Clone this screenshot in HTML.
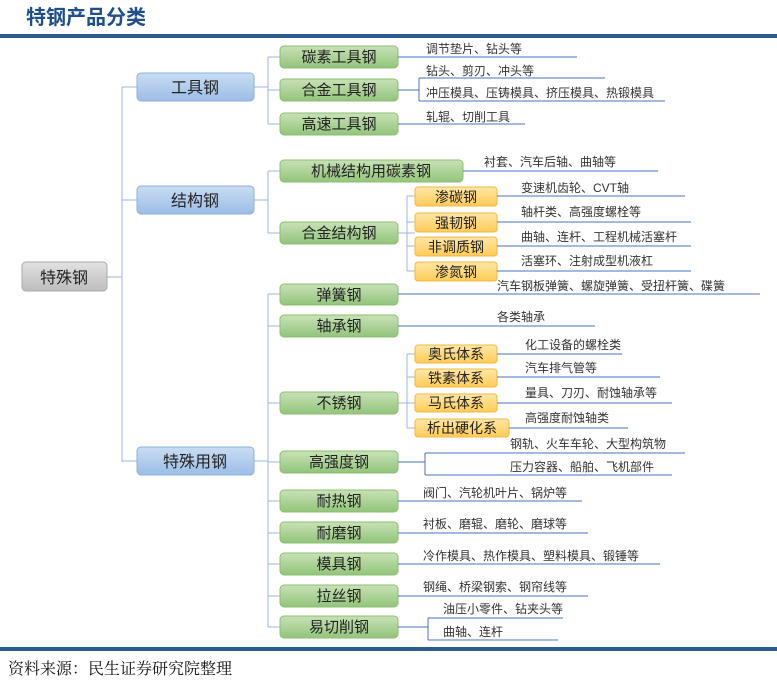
<!DOCTYPE html>
<html><head><meta charset="utf-8"><style>
body{margin:0;background:#fff;}
svg{display:block;font-family:"Liberation Sans","Noto Sans CJK SC",sans-serif;}
.a{font-size:12px;fill:#333;}
.b{font-size:15px;fill:#222;text-anchor:middle;}
.c{font-size:16px;fill:#222;text-anchor:middle;}
.l{stroke:#4a72c0;stroke-width:1;fill:none;}
.t{stroke:#9bb5e0;stroke-width:1;fill:none;}
.g{fill:url(#gg);stroke:#8cbf6f;}
.o{fill:url(#og);stroke:#f0b840;}
</style></head><body>
<svg width="777" height="682" viewBox="0 0 777 682" xmlns="http://www.w3.org/2000/svg">
<defs>
<linearGradient id="gg" x1="0" y1="0" x2="0" y2="1"><stop offset="0" stop-color="#c8e2b6"/><stop offset="1" stop-color="#92c47b"/></linearGradient>
<linearGradient id="og" x1="0" y1="0" x2="0" y2="1"><stop offset="0" stop-color="#ffe7a8"/><stop offset="1" stop-color="#ffcb55"/></linearGradient>
<linearGradient id="bg" x1="0" y1="0" x2="0" y2="1"><stop offset="0" stop-color="#c9ddf3"/><stop offset="1" stop-color="#9cbde6"/></linearGradient>
<linearGradient id="sg" x1="0" y1="0" x2="0" y2="1"><stop offset="0" stop-color="#e2e2e2"/><stop offset="1" stop-color="#bdbdbd"/></linearGradient>
</defs>
<text x="26" y="24" style="font-size:20px;font-weight:bold;fill:#1f4e8c;font-family:'Liberation Sans','Noto Sans CJK SC',sans-serif">特钢产品分类</text>
<rect x="0" y="34" width="777" height="4" fill="#2e5a8e"/>
<rect x="0" y="647" width="777" height="4" fill="#2e5a8e"/>
<text x="8" y="674" style="font-size:16px;fill:#111;font-family:'Liberation Serif','Noto Serif CJK SC',serif">资料来源：民生证券研究院整理</text>

<path class="t" d="M122 87V462M107 277H122M122 87H137M122 200H137M122 461H137"/>
<path class="t" d="M268 57V124M254 87H268M268 57H280M268 90H280M268 124H280"/>
<path class="t" d="M268 171V233M254 200H268M268 171H280M268 233H280"/>
<path class="t" d="M268 294V627M254 461H268M268 294H280M268 326H280M268 403H280M268 462H280M268 501H280M268 533H280M268 564H280M268 596H280M268 627H280"/>
<path class="t" d="M407 196V271M398 233H415M407 196H415M407 222H415M407 246H415M407 271H415"/>
<path class="t" d="M407 354V428M398 403H415M407 354H415M407 377H415M407 428H415"/>

<rect x="22" y="262" width="85" height="29" rx="4" fill="url(#sg)" stroke="#aaa"/>
<text class="c" x="64" y="283">特殊钢</text>
<rect x="137" y="73" width="117" height="28" rx="4" fill="url(#bg)" stroke="#8db0dc"/><text class="c" x="195" y="93">工具钢</text>
<rect x="137" y="186" width="117" height="28" rx="4" fill="url(#bg)" stroke="#8db0dc"/><text class="c" x="195" y="206">结构钢</text>
<rect x="137" y="447" width="117" height="28" rx="4" fill="url(#bg)" stroke="#8db0dc"/><text class="c" x="195" y="467">特殊用钢</text>

<g>
<rect class="g" x="280" y="46" width="118" height="22" rx="4"/><text class="b" x="339" y="62">碳素工具钢</text>
<rect class="g" x="280" y="79" width="118" height="22" rx="4"/><text class="b" x="339" y="95">合金工具钢</text>
<rect class="g" x="280" y="113" width="118" height="22" rx="4"/><text class="b" x="339" y="129">高速工具钢</text>
<rect class="g" x="280" y="160" width="183" height="22" rx="4"/><text class="b" x="371" y="176">机械结构用碳素钢</text>
<rect class="g" x="280" y="222" width="118" height="22" rx="4"/><text class="b" x="339" y="238">合金结构钢</text>
<rect class="g" x="280" y="284" width="118" height="21" rx="4"/><text class="b" x="339" y="300">弹簧钢</text>
<rect class="g" x="280" y="315" width="118" height="22" rx="4"/><text class="b" x="339" y="331">轴承钢</text>
<rect class="g" x="280" y="392" width="118" height="22" rx="4"/><text class="b" x="339" y="408">不锈钢</text>
<rect class="g" x="280" y="451" width="118" height="22" rx="4"/><text class="b" x="339" y="467">高强度钢</text>
<rect class="g" x="280" y="490" width="118" height="22" rx="4"/><text class="b" x="339" y="506">耐热钢</text>
<rect class="g" x="280" y="522" width="118" height="21" rx="4"/><text class="b" x="339" y="538">耐磨钢</text>
<rect class="g" x="280" y="553" width="118" height="22" rx="4"/><text class="b" x="339" y="569">模具钢</text>
<rect class="g" x="280" y="585" width="118" height="22" rx="4"/><text class="b" x="339" y="601">拉丝钢</text>
<rect class="g" x="280" y="616" width="118" height="22" rx="4"/><text class="b" x="339" y="632">易切削钢</text>
</g>
<g>
<rect class="o" x="415" y="187" width="82" height="19" rx="3"/><text class="b" x="456" y="202" style="font-size:14px">渗碳钢</text>
<rect class="o" x="415" y="213" width="82" height="19" rx="3"/><text class="b" x="456" y="228" style="font-size:14px">强韧钢</text>
<rect class="o" x="415" y="237" width="82" height="19" rx="3"/><text class="b" x="456" y="252" style="font-size:14px">非调质钢</text>
<rect class="o" x="415" y="262" width="82" height="19" rx="3"/><text class="b" x="456" y="277" style="font-size:14px">渗氮钢</text>
<rect class="o" x="415" y="345" width="82" height="18" rx="3"/><text class="b" x="456" y="359" style="font-size:14px">奥氏体系</text>
<rect class="o" x="415" y="369" width="82" height="18" rx="3"/><text class="b" x="456" y="383" style="font-size:14px">铁素体系</text>
<rect class="o" x="415" y="394" width="82" height="18" rx="3"/><text class="b" x="456" y="408" style="font-size:14px">马氏体系</text>
<rect class="o" x="415" y="419" width="94" height="18" rx="3"/><text class="b" x="462" y="433" style="font-size:14px">析出硬化系</text>
</g>

<path class="l" d="M398 57H577M398 90H419M419 78V101M419 78H605M419 101H665M398 124H525M463 171H658"/>
<path class="l" d="M497 196H685M497 222H691M497 246H691M497 271H691"/>
<path class="l" d="M398 294H760M398 326H595M497 354H622M497 377H660M497 403H672M509 428H628"/>
<path class="l" d="M398 462H425M425 453V475M425 453H685M425 475H672"/>
<path class="l" d="M398 501H582M398 533H588M398 564H660M398 596H588M398 627H428M428 618V640M428 618H563M428 640H558"/>

<g class="a">
<text x="426" y="53">调节垫片、钻头等</text>
<text x="426" y="75">钻头、剪刃、冲头等</text>
<text x="426" y="97">冲压模具、压铸模具、挤压模具、热锻模具</text>
<text x="426" y="121">轧辊、切削工具</text>
<text x="484" y="166">衬套、汽车后轴、曲轴等</text>
<text x="521" y="192">变速机齿轮、CVT轴</text>
<text x="521" y="216">轴杆类、高强度螺栓等</text>
<text x="521" y="241">曲轴、连杆、工程机械活塞杆</text>
<text x="521" y="265">活塞环、注射成型机液杠</text>
<text x="497" y="290">汽车钢板弹簧、螺旋弹簧、受扭杆簧、碟簧</text>
<text x="497" y="321">各类轴承</text>
<text x="525" y="349">化工设备的螺栓类</text>
<text x="525" y="372">汽车排气管等</text>
<text x="525" y="397">量具、刀刃、耐蚀轴承等</text>
<text x="525" y="422">高强度耐蚀轴类</text>
<text x="510" y="448">钢轨、火车车轮、大型构筑物</text>
<text x="510" y="471">压力容器、船舶、飞机部件</text>
<text x="423" y="497">阀门、汽轮机叶片、锅炉等</text>
<text x="423" y="528">衬板、磨辊、磨轮、磨球等</text>
<text x="423" y="560">冷作模具、热作模具、塑料模具、锻锤等</text>
<text x="423" y="591">钢绳、桥梁钢索、钢帘线等</text>
<text x="443" y="613">油压小零件、钻夹头等</text>
<text x="443" y="636">曲轴、连杆</text>
</g>
</svg>
</body></html>
